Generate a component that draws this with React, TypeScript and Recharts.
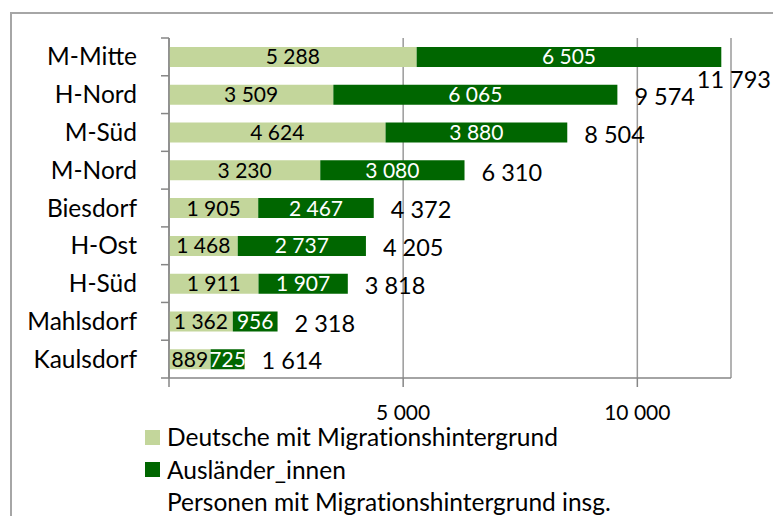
import React from "react"
import { Bar, BarChart, CartesianGrid, LabelList, Legend, XAxis, YAxis } from "recharts"

const districts = ["M-Mitte", "H-Nord", "M-Süd", "M-Nord", "Biesdorf", "H-Ost", "H-Süd", "Mahlsdorf", "Kaulsdorf"]
const deutsche = [5288, 3509, 4624, 3230, 1905, 1468, 1911, 1362, 889]
const auslaender = [6505, 6065, 3880, 3080, 2467, 2737, 1907, 956, 725]
const totals = [11793, 9574, 8504, 6310, 4372, 4205, 3818, 2318, 1614]
const xTicks = [0, 5000, 10000]
const legendItems = [
  { label: "Deutsche mit Migrationshintergrund", color: "#c3d69b" },
  { label: "Ausländer_innen", color: "#006600" },
  { label: "Personen mit Migrationshintergrund insg.", color: null },
]

const LIGHT = "#c3d69b"
const DARK = "#006600"
const AXIS = "#868686"
const FONT = "Lato, 'Open Sans', sans-serif"
const BAND_HALF = 340 / 9 / 2

const fmt = (v: number) => String(v).replace(/\B(?=(\d{3})+(?!\d))/g, " ")

const data = districts.map((name, i) => ({
  name,
  deutsche: deutsche[i],
  auslaender: auslaender[i],
  total: totals[i],
}))

const CategoryTick = (props: any) => {
  const { x, y, payload, index } = props
  const ax = x + 24
  return (
    <g>
      <line x1={ax} x2={ax + 8} y1={y - BAND_HALF} y2={y - BAND_HALF} stroke={AXIS} strokeWidth={1.5} />
      {index === districts.length - 1 && (
        <line x1={ax} x2={ax + 8} y1={y + BAND_HALF} y2={y + BAND_HALF} stroke={AXIS} strokeWidth={1.5} />
      )}
      <text x={x} y={y} dy="0.35em" textAnchor="end" fontSize={24.5} fontFamily={FONT} fill="#000">
        {payload.value}
      </text>
    </g>
  )
}

// total label right of the bar; pushed below the bar when it would run off the chart (like Excel)
const TotalLabel = (props: any) => {
  const { x, y, width, height, value } = props
  const text = fmt(value)
  let lx = x + width + 17
  let ly = y + height / 2 + 2
  let anchor: "start" | "end" = "start"
  if (lx + text.length * 12 > 773) {
    lx = 771
    ly = y + height + 13
    anchor = "end"
  }
  return (
    <text x={lx} y={ly} dy="0.35em" textAnchor={anchor} fontSize={23.5} fontFamily={FONT} fill="#000">
      {text}
    </text>
  )
}

const LegendContent = () => (
  <div style={{ fontFamily: FONT, fontSize: 24.5, color: "#000", fontVariantLigatures: "none" }}>
    {legendItems.map((it) => (
      <div key={it.label} style={{ display: "flex", alignItems: "center", height: 32.5, whiteSpace: "nowrap" }}>
        <span
          style={{
            display: "inline-block",
            width: 15,
            height: 15,
            marginRight: 7,
            flex: "none",
            background: it.color ?? "transparent",
          }}
        />
        <span style={{ lineHeight: 1 }}>{it.label}</span>
      </div>
    ))}
  </div>
)

export default function App() {
  return (
    <div style={{ position: "absolute", left: 0, top: 0, width: 773, height: 516, overflow: "hidden", background: "#fff" }}>
      <div
        style={{
          position: "absolute",
          left: 10,
          top: 12,
          width: 900,
          height: 700,
          border: "2px solid #a6a6a6",
        }}
      />
      <div style={{ position: "absolute", left: 0, top: 0 }}>
        <BarChart
          width={773}
          height={516}
          data={data}
          layout="vertical"
          margin={{ top: 38, right: 42, left: 0, bottom: 0 }}
        >
          <CartesianGrid horizontal={false} stroke="#9a9a9a" strokeWidth={1.5} />
          <XAxis
            type="number"
            domain={[0, 12000]}
            ticks={xTicks}
            interval={0}
            height={138}
            tickSize={9}
            tickMargin={18}
            stroke={AXIS}
            strokeWidth={1.5}
            tick={{ fill: "#000", fontSize: 21, fontFamily: FONT }}
            tickFormatter={(v: number) => (v === 0 ? "" : fmt(v))}
          />
          <YAxis
            type="category"
            dataKey="name"
            width={169}
            tickSize={8}
            tickMargin={24}
            tickLine={false}
            interval={0}
            stroke={AXIS}
            strokeWidth={1.5}
            tick={<CategoryTick />}
          />
          <Legend
            layout="horizontal"
            verticalAlign="middle"
            align="center"
            content={<LegendContent />}
            wrapperStyle={{ left: 145, top: 421, width: 620, height: 100 }}
          />
          <Bar dataKey="deutsche" stackId="a" fill={LIGHT} barSize={20} isAnimationActive={false}>
            <LabelList
              dataKey="deutsche"
              position="center"
              formatter={(v: any) => fmt(v)}
              style={{ fill: "#000", fontSize: 21, fontFamily: FONT }}
            />
          </Bar>
          <Bar dataKey="auslaender" stackId="a" fill={DARK} barSize={20} isAnimationActive={false}>
            <LabelList
              dataKey="auslaender"
              position="center"
              formatter={(v: any) => fmt(v)}
              style={{ fill: "#fff", fontSize: 21, fontFamily: FONT }}
            />
            <LabelList dataKey="total" content={<TotalLabel />} />
          </Bar>
        </BarChart>
      </div>
    </div>
  )
}
